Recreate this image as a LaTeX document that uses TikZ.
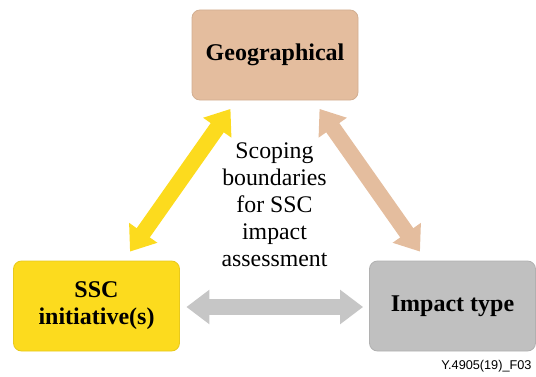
\documentclass[tikz,border=0pt]{standalone}
\usepackage{fontspec}
\setmainfont{Liberation Serif}
\newfontfamily\figidfont{Liberation Sans}
\usepackage{tikz}
\usetikzlibrary{arrows.meta, positioning, calc}

\definecolor{geotan}{RGB}{228,189,158}
\definecolor{sscyellow}{RGB}{252,219,30}
\definecolor{impactgray}{RGB}{192,192,192}
\definecolor{arrowgray}{RGB}{198,198,198}

\begin{document}
\begin{tikzpicture}[x=1pt, y=1pt, >={Triangle[length=23pt, width=33pt]},
  scopebox/.style={draw, rounded corners=8pt, line width=0.8pt, minimum width=166pt, minimum height=90pt, align=center, font=\fontsize{24}{27}\selectfont\bfseries},
  fatarrow/.style={<->, line width=16pt},
  centerlabel/.style={align=center, font=\fontsize{23.8}{26.9}\selectfont}]

  \useasboundingbox (0,0) rectangle (536,376);

  % The three scoping dimensions
  \node[scopebox, fill=geotan, draw=geotan!92!black] (geo) at (275,321) {Geographical};
  \node[scopebox, fill=sscyellow, draw=sscyellow!92!black] (ssc) at (96.5,70) {SSC\\initiative(s)};
  \node[scopebox, fill=impactgray, draw=impactgray!92!black] (impact) at (452.5,70) {Impact type};

  % Text in the middle of the triangle
  \node[centerlabel] (scope) at (274.5,171.5) {Scoping\\boundaries\\for SSC\\impact\\assessment};

  % Draw the double arrows between the boxes
  \draw[fatarrow, sscyellow] ([xshift=33.5pt, yshift=9pt]ssc.north) -- ([xshift=-44.5pt, yshift=-8.5pt]geo.south);
  \draw[fatarrow, geotan] ([xshift=44.5pt, yshift=-8.5pt]geo.south) -- ([xshift=-32.5pt, yshift=9pt]impact.north);
  \draw[fatarrow, arrowgray] ([xshift=6.5pt, yshift=-1pt]ssc.east) -- ([xshift=-6pt, yshift=-1pt]impact.west);

  % Figure number
  \node[font=\figidfont\fontsize{12.7}{14}\selectfont, anchor=base east] (figid) at (535,7) {Y.4905(19)\_F03};

\end{tikzpicture}
\end{document}
